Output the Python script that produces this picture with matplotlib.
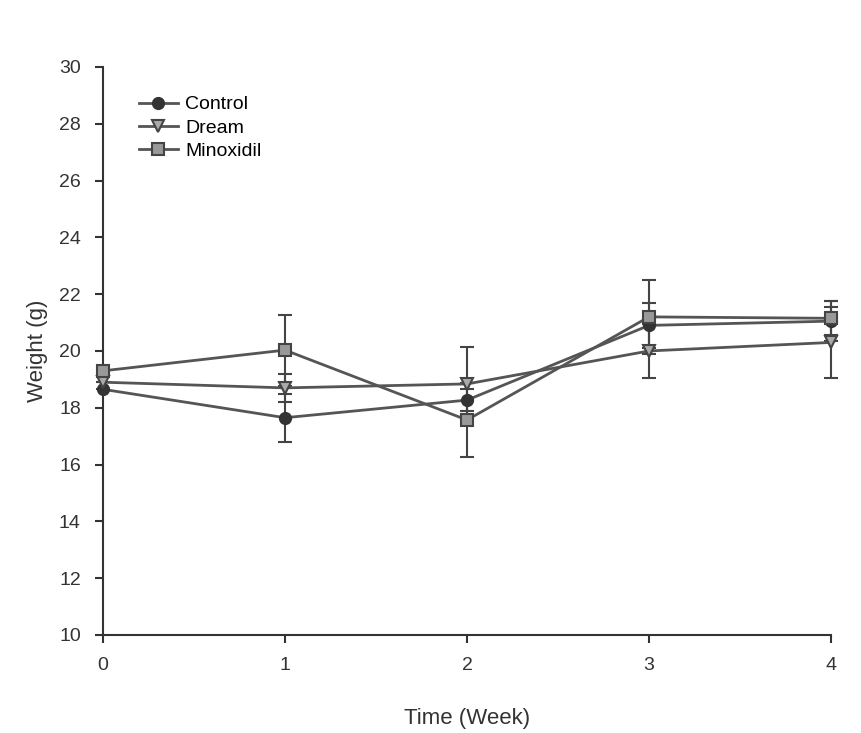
import numpy as np
import matplotlib.pyplot as plt

plt.rcParams['font.family'] = ['Liberation Sans', 'DejaVu Sans']

weeks = [0, 1, 2, 3, 4]
control = [18.65, 17.65, 18.27, 20.9, 21.05]
control_err = [0.0, 0.85, 0.4, 0.8, 0.7]
dream = [18.9, 18.7, 18.84, 20.0, 20.3]
dream_err = [0.0, 0.5, 1.3, 0.95, 1.25]
minoxidil = [19.3, 20.03, 17.57, 21.2, 21.15]
minoxidil_err = [0.0, 1.25, 1.3, 1.3, 0.6]

fig = plt.figure(figsize=(8.62, 7.33), dpi=100)
ax = fig.add_axes([0.1195, 0.1337, 0.8445, 0.775])

line_col = '#555555'
err_col = '#444444'
series = [
    ('Control', control, control_err, 'o', '#333333', '#333333'),
    ('Dream', dream, dream_err, 'v', '#aaaaaa', '#444444'),
    ('Minoxidil', minoxidil, minoxidil_err, 's', '#999999', '#444444'),
]
for name, vals, err, mk, fc, ec in series:
    # error bars without legend entry
    ax.errorbar(weeks, vals, yerr=err, fmt='none', ecolor=err_col, capsize=5,
                elinewidth=1.5, capthick=1.5, clip_on=False)
    ax.plot(weeks, vals, color=line_col, lw=2, marker=mk, mfc=fc, mec=ec,
            markersize=8, markeredgewidth=1.5, label=name, clip_on=False, zorder=3)

ax.set_xlim(0, 4)
ax.set_ylim(10, 30)
ax.set_xticks(weeks)
ax.set_yticks(np.arange(10, 31, 2))
ax.spines['top'].set_visible(False)
ax.spines['right'].set_visible(False)
for s in ['left', 'bottom']:
    ax.spines[s].set_color('#333333')
    ax.spines[s].set_linewidth(1.5)
ax.tick_params(direction='out', length=6, width=1.5, colors='#333333', labelsize=14, pad=10)
ax.set_xlabel('Time (Week)', fontsize=16, color='#333333', labelpad=24)
ax.set_ylabel('Weight (g)', fontsize=16, color='#333333', labelpad=8)

ax.legend(loc='upper left', bbox_to_anchor=(0.025, 0.98), frameon=False, fontsize=14,
          handlelength=2.0, labelspacing=0.3, handletextpad=0.4)

fig.savefig('out.png', dpi=100)
